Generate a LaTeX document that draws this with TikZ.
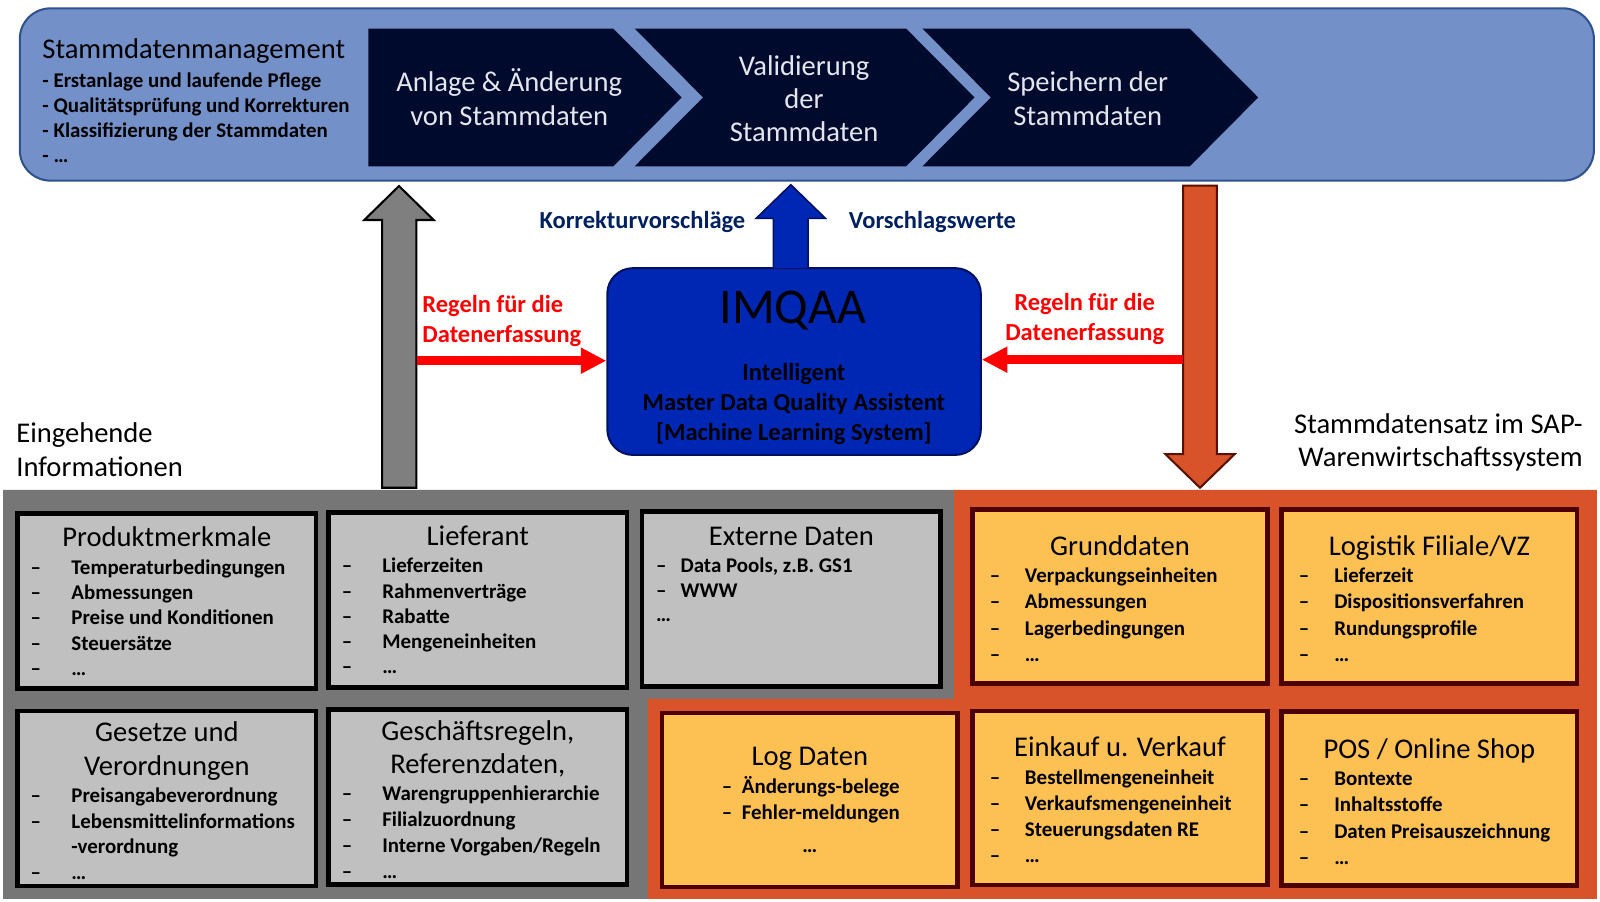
\documentclass[tikz,border=0pt]{standalone}
\usepackage{fontspec}
\setmainfont{Carlito}
\usetikzlibrary{arrows.meta}
\definecolor{bannerfill}{HTML}{7390C9}
\definecolor{bannerdraw}{HTML}{2F528F}
\definecolor{chevfill}{HTML}{000A2D}
\definecolor{chevtext}{HTML}{E4E6EE}
\definecolor{navy}{HTML}{002060}
\definecolor{imqfill}{HTML}{0026B4}
\definecolor{imqdraw}{HTML}{001060}
\definecolor{grayarrow}{HTML}{7F7F7F}
\definecolor{orangeA}{HTML}{D9532A}
\definecolor{orangedraw}{HTML}{5A1000}
\definecolor{graybg}{HTML}{767676}
\definecolor{grayboxfill}{HTML}{C0C0C0}
\definecolor{orangeboxfill}{HTML}{FDC053}
\definecolor{boxmaroon}{HTML}{4D0000}
\newcommand\blk[2]{\begin{tabular}[t]{@{}#1@{}}#2\end{tabular}}
\newcommand\dsh[1]{\makebox[#1][l]{–}}
\tikzset{
  txt/.style={inner sep=0pt, outer sep=0pt},
  ttl/.style={txt, anchor=base, font=\fontsize{28}{32.5}\selectfont},
  itm/.style={txt, anchor=base west, font=\bfseries\fontsize{20.5}{#1}\selectfont},
  itm/.default=24.6,
  gbox/.style={draw=black, line width=4.5pt, fill=grayboxfill, minimum width=292.5pt, minimum height=171.5pt, inner sep=0pt},
  obox/.style={draw=boxmaroon, line width=4.5pt, fill=orangeboxfill, minimum width=289.5pt, minimum height=170.5pt, inner sep=0pt},
  chevtxt/.style={txt, anchor=base, text=chevtext, font=\fontsize{28}{32.5}\selectfont},
  lbl/.style={txt, font=\bfseries\fontsize{24}{29.3}\selectfont},
  redarrow/.style={draw=red, line width=8.5pt, -{Triangle[length=25pt,width=24pt]}},
}
\begin{document}
\begin{tikzpicture}[x=1pt,y=-1pt]
\useasboundingbox (0,0) rectangle (1568,883);
% banner
\draw[draw=bannerdraw, fill=bannerfill, line width=2pt, rounded corners=30pt] (19.4,8.2) rectangle (1562,177);
\fill[chevfill] (361,28) -- (601,28) -- (668,95.5) -- (601,163) -- (361,163) -- cycle;
\fill[chevfill] (622,28) -- (888,28) -- (955,95.5) -- (888,163) -- (622,163) -- (689,95.5) -- cycle;
\fill[chevfill] (904,28) -- (1166,28) -- (1233,95.5) -- (1166,163) -- (904,163) -- (971,95.5) -- cycle;
\node[chevtxt] (c1t) at (499,90) {\blk{c}{Anlage \& Änderung\\von Stammdaten}};
\node[chevtxt] (c2t) at (788,73.7) {\blk{c}{Validierung\\der\\Stammdaten}};
\node[chevtxt] (c3t) at (1066,90) {\blk{c}{Speichern der\\Stammdaten}};
\node[txt, anchor=base west, font=\fontsize{28}{32}\selectfont] (smt) at (41.6,57.4) {Stammdatenmanagement};
\node[txt, anchor=base west, font=\bfseries\fontsize{20.5}{24.5}\selectfont] (smb) at (41.6,86.2) {\blk{l}{- Erstanlage und laufende Pflege\\- Qualitätsprüfung und Korrekturen\\- Klassifizierung der Stammdaten\\- …}};
% IMQAA
\node[draw=imqdraw, fill=imqfill, line width=2pt, rounded corners=25pt, minimum width=366pt, minimum height=183pt] (imq) at (778.2,354.3) {};
\node[txt, anchor=base, font=\fontsize{49}{55}\selectfont] (imqt) at (777,316.7) {IMQAA};
\node[lbl, anchor=base] (imqs) at (778,373.1) {\blk{c}{Intelligent\\Master Data Quality Assistent\\{[Machine Learning System]}}};
% block arrows
\draw[line width=2pt, fill=grayarrow, line join=miter] (374.5,478) -- (374.5,215.6) -- (357,215.6) -- (391,182.3) -- (425,215.6) -- (408,215.6) -- (408,478) -- cycle;
\draw[line width=1.5pt, draw=imqdraw, fill=imqfill] (758,262.5) -- (758,214) -- (741,214) -- (775,181) -- (809,214) -- (792,214) -- (792,262.5);
\draw[line width=2pt, draw=orangedraw, fill=orangeA] (1159.5,182) -- (1192.5,182) -- (1192.5,445) -- (1210,445) -- (1176,478) -- (1142,445) -- (1159.5,445) -- cycle;
\coordinate (gsh) at (408.5,353.5);
\coordinate (osh) at (1159,352.5);
\draw[redarrow] (gsh) -- (gsh -| imq.west);
\draw[redarrow] (osh) -- (osh -| imq.east);
% labels
\node[lbl, anchor=base east, text=navy] (kv) at (730.4,224.4) {Korrekturvorschläge};
\node[lbl, anchor=base west, text=navy] (vw) at (832,224.4) {Vorschlagswerte};
\node[lbl, anchor=base west, text=red] (rl) at (414,306.2) {\blk{l}{Regeln für die\\Datenerfassung}};
\node[lbl, anchor=base, text=red] (rr) at (1063,304.5) {\blk{c}{Regeln für die\\Datenerfassung}};
\node[txt, anchor=base west, font=\fontsize{28}{33}\selectfont] (ein) at (16,434) {\blk{l}{Eingehende\\Informationen}};
\node[txt, anchor=base east, font=\fontsize{28}{32.7}\selectfont] (sap) at (1551,424.9) {\blk{r}{Stammdatensatz im SAP-\\Warenwirtschaftssystem}};
% backgrounds
\fill[graybg] (3,480) -- (935,480) -- (935,685) -- (635,685) -- (635,881) -- (3,881) -- cycle;
\fill[orangeA] (935,480) -- (1565,480) -- (1565,881) -- (635,881) -- (635,685) -- (935,685) -- cycle;
% gray boxes
\node[gbox] (pm) at (163.5,588.75) {};
\node[gbox] (lf) at (468.25,588.25) {};
\node[gbox] (ex) at (775.5,587) {};
\node[gbox] (gs) at (163.5,782.5) {};
\node[gbox] (gr) at (468.25,781) {};
% orange boxes
\node[obox] (gd) at (1097.6,584.7) {};
\node[obox] (lg) at (1400.8,584.7) {};
\node[obox] (ld) at (793.7,784) {};
\node[obox] (ek) at (1097.6,782) {};
\node[obox] (pos) at (1400.8,782.7) {};
% box texts
\node[ttl] (pmt) at (163.5,536) {Produktmerkmale};
\node[itm] (pmi) at (30,563.2) {\blk{l}{\dsh{40pt}Temperaturbedingungen\\\dsh{40pt}Abmessungen\\\dsh{40pt}Preise und Konditionen\\\dsh{40pt}Steuersätze\\\dsh{40pt}…}};
\node[ttl] (lft) at (468.25,534.4) {Lieferant};
\node[itm] (lfi) at (335,561.5) {\blk{l}{\dsh{39.7pt}Lieferzeiten\\\dsh{39.7pt}Rahmenverträge\\\dsh{39.7pt}Rabatte\\\dsh{39.7pt}Mengeneinheiten\\\dsh{39.7pt}…}};
\node[ttl] (ext) at (775.5,534.4) {Externe Daten};
\node[itm=24.3] (exi) at (643,560.9) {\blk{l}{\dsh{24pt}Data Pools, z.B. GS1\\\dsh{24pt}WWW\\…}};
\node[ttl] (gst) at (163.5,727.1) {\blk{c}{Gesetze und\\Verordnungen}};
\node[itm=25.3] (gsi) at (30,786.2) {\blk{l}{\dsh{40pt}Preisangabeverordnung\\\dsh{40pt}Lebensmittelinformations\\\hspace*{40pt}-verordnung\\\dsh{40pt}…}};
\node[ttl] (grt) at (468.25,725.4) {\blk{c}{Geschäftsregeln,\\Referenzdaten,}};
\node[itm=25.5] (gri) at (335,784.7) {\blk{l}{\dsh{39.7pt}Warengruppenhierarchie\\\dsh{39.7pt}Filialzuordnung\\\dsh{39.7pt}Interne Vorgaben/Regeln\\\dsh{39.7pt}…}};
\node[ttl] (gdt) at (1097.6,544.8) {Grunddaten};
\node[itm=25.6] (gdi) at (970,571.2) {\blk{l}{\dsh{34.5pt}Verpackungseinheiten\\\dsh{34.5pt}Abmessungen\\\dsh{34.5pt}Lagerbedingungen\\\dsh{34.5pt}…}};
\node[ttl] (lgt) at (1400.8,544.8) {Logistik Filiale/VZ};
\node[itm=25.6] (lgi) at (1273,571.2) {\blk{l}{\dsh{34.6pt}Lieferzeit\\\dsh{34.6pt}Dispositionsverfahren\\\dsh{34.6pt}Rundungsprofile\\\dsh{34.6pt}…}};
\node[ttl] (ldt) at (793.7,750.6) {Log Daten};
\node[itm=26] (ldi) at (707.4,777.2) {\blk{l}{\dsh{19.6pt}Änderungs-belege\\\dsh{19.6pt}Fehler-meldungen}};
\node[itm, anchor=base] (ldd) at (793.7,835.5) {…};
\node[ttl] (ekt) at (1097.6,741.8) {Einkauf u. Verkauf};
\node[itm=25.5] (eki) at (970,769) {\blk{l}{\dsh{34.5pt}Bestellmengeneinheit\\\dsh{34.5pt}Verkaufsmengeneinheit\\\dsh{34.5pt}Steuerungsdaten RE\\\dsh{34.5pt}…}};
\node[ttl] (post) at (1400.8,743.4) {POS / Online Shop};
\node[itm=25.8] (posi) at (1273,769.9) {\blk{l}{\dsh{34.6pt}Bontexte\\\dsh{34.6pt}Inhaltsstoffe\\\dsh{34.6pt}Daten Preisauszeichnung\\\dsh{34.6pt}…}};
\end{tikzpicture}
\end{document}
